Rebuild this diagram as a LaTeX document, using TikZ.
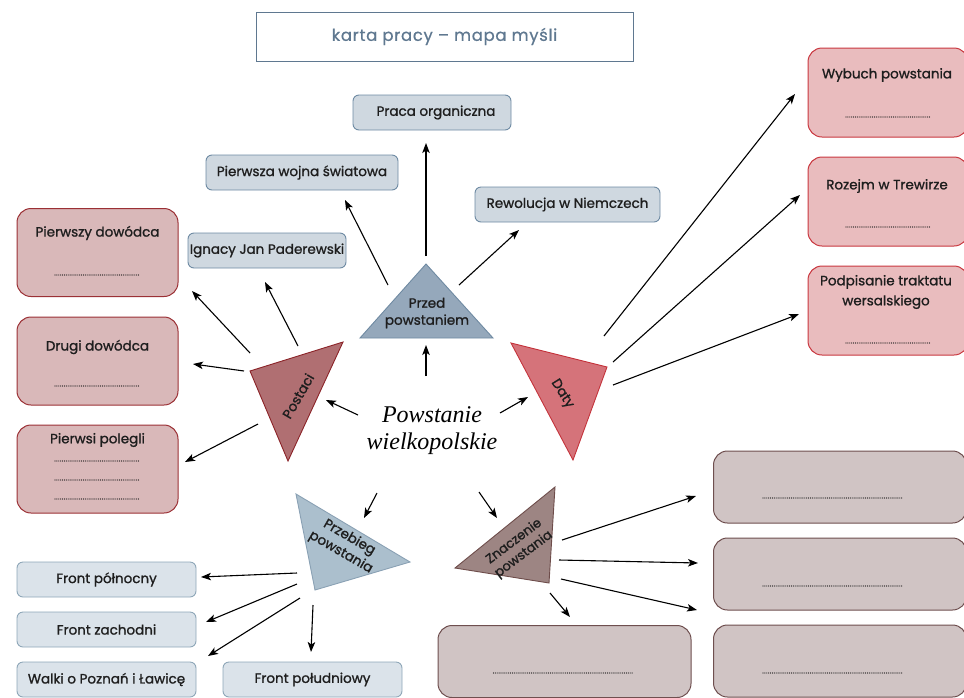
\documentclass[tikz,border=0pt]{standalone}
\usepackage{fontspec}
\setmainfont{Poppins}[FakeBold=1.2]
\newfontfamily\scriptf{Liberation Serif}
\newfontfamily\titlef{Poppins}[LetterSpace=4,FakeBold=0.6]
\usetikzlibrary{arrows.meta}
\definecolor{titleC}{HTML}{5F7890}
\definecolor{txt}{HTML}{1E1E1E}
\definecolor{bluF}{HTML}{CFD8E0}\definecolor{bluD}{HTML}{6E8AA3}
\definecolor{lbluF}{HTML}{DBE3EA}\definecolor{lbluD}{HTML}{8EA7B8}
\definecolor{redLF}{HTML}{D9B8B9}\definecolor{redLD}{HTML}{9B3035}
\definecolor{redRF}{HTML}{E9BCBE}\definecolor{redRD}{HTML}{C9373F}
\definecolor{brF}{HTML}{D0C4C4}\definecolor{brD}{HTML}{6F4F4F}
\definecolor{triA}{HTML}{95A8BB}\definecolor{triAD}{HTML}{6F8AA2}
\definecolor{triB}{HTML}{B06F72}\definecolor{triBD}{HTML}{8B2328}
\definecolor{triC}{HTML}{D5737A}\definecolor{triCD}{HTML}{C4343C}
\definecolor{triD}{HTML}{ABBFCD}\definecolor{triDD}{HTML}{8AA1B4}
\definecolor{triE}{HTML}{9D8583}\definecolor{triED}{HTML}{6E4D4B}
\newcommand{\dotline}[1]{\makebox[#1]{\fontsize{7}{7}\selectfont\leaders\hbox to 1.9pt{\hss.\hss}\hfill}}
\begin{document}
\begin{tikzpicture}[x=1pt,y=-1pt,
  every node/.style={font=\fontsize{13.5}{17}\selectfont, text=txt},
  bbox/.style={draw=bluD, fill=bluF, rounded corners=6pt, line width=0.9pt, inner sep=0pt},
  lbox/.style={draw=lbluD, fill=lbluF, rounded corners=6pt, line width=0.9pt, inner sep=0pt, minimum width=179pt, minimum height=35pt},
  rlbox/.style={draw=redLD, fill=redLF, rounded corners=14pt, line width=1pt, inner sep=0pt, minimum width=161pt, minimum height=88pt},
  rrbox/.style={draw=redRD, fill=redRF, rounded corners=14pt, line width=1pt, inner sep=0pt, minimum width=160pt, minimum height=89pt},
  brbox/.style={draw=brD, fill=brF, rounded corners=14pt, line width=1pt, inner sep=0pt, minimum height=72pt},
  dots/.style={inner sep=0pt},
  arr/.style={-{Stealth[length=10pt,width=7.5pt,inset=2.5pt]}, line width=1.1pt, black},
  tlabel/.style={align=center, inner sep=0pt}
]
\useasboundingbox (0,0) rectangle (964,697);

% title
\node[draw=titleC, line width=1pt, fill=white, minimum width=377pt, minimum height=49pt, inner sep=0pt,
  text=titleC, font=\titlef\fontsize{16.5}{18}\selectfont] (title) at (444.5,36.5) {karta pracy – mapa myśli};

% upper blue boxes
\node[bbox, minimum width=158pt, minimum height=35pt] (praca) at (432,112.5) {\hspace*{8pt}Praca organiczna};
\node[bbox, minimum width=192pt, minimum height=35pt] (wojna) at (302,172.5) {Pierwsza wojna światowa};
\node[bbox, minimum width=185pt, minimum height=35pt] (rewol) at (567.5,204.5) {Rewolucja w Niemczech};
\node[bbox, minimum width=158pt, minimum height=35pt] (padere) at (267,250.5) {Ignacy Jan Paderewski};

% left red boxes
\node[rlbox] (dow1) at (97.5,252.5) {};
\node[tlabel] (dow1t) at (97.5,233) {Pierwszy dowódca};
\node[dots] (dow1d) at (97.5,275) {\dotline{87pt}};
\node[rlbox] (dow2) at (97.5,361) {};
\node[tlabel] (dow2t) at (97.5,347) {Drugi dowódca};
\node[dots] (dow2d) at (97.5,386) {\dotline{87pt}};
\node[rlbox] (poleg) at (97.5,469) {};
\node[tlabel] (polegt) at (97.5,440) {Pierwsi polegli};
\node[dots] (polegd1) at (97.5,461) {\dotline{87pt}};
\node[dots] (polegd2) at (97.5,480) {\dotline{87pt}};
\node[dots] (polegd3) at (97.5,499) {\dotline{87pt}};

% right red boxes
\node[rrbox] (wybuch) at (888,92.5) {};
\node[tlabel] (wybucht) at (887,75) {Wybuch powstania};
\node[dots] (wybuchd) at (888.5,117) {\dotline{87pt}};
\node[rrbox] (rozejm) at (888,201.5) {};
\node[tlabel] (rozejmt) at (887,186) {Rozejm w Trewirze};
\node[dots] (rozejmd) at (888.5,227) {\dotline{87pt}};
\node[rrbox] (traktat) at (888,310.5) {};
\node[tlabel, font=\fontsize{13.5}{20}\selectfont] (traktatt) at (886,292) {Podpisanie traktatu\\wersalskiego};
\node[dots] (traktatd) at (888.5,343) {\dotline{87pt}};

% brown boxes
\node[brbox, minimum width=253pt] (zn1) at (840,487) {};
\node[brbox, minimum width=253pt] (zn2) at (840,574) {};
\node[brbox, minimum width=253pt] (zn3) at (840,661) {};
\node[brbox, minimum width=253pt] (zn4) at (564.5,661.5) {};
\node[dots] (zd1) at (833,498) {\dotline{142pt}};
\node[dots] (zd2) at (833,586) {\dotline{142pt}};
\node[dots] (zd3) at (833,673) {\dotline{142pt}};
\node[dots] (zd4) at (563.5,673) {\dotline{142pt}};

% lower blue boxes
\node[lbox] (fpn) at (106.5,579.5) {Front północny};
\node[lbox] (fza) at (106.5,629.5) {Front zachodni};
\node[lbox] (fwa) at (106.5,679.5) {Walki o Poznań i Ławicę};
\node[lbox] (fpd) at (312.5,679.5) {Front południowy};

% triangles
\draw[fill=triA, draw=triAD, line width=0.9pt] (426,264) -- (493,338) -- (360,338) -- cycle;
\node[tlabel] (przed) at (427,313) {Przed\\powstaniem};
\draw[fill=triB, draw=triBD, line width=0.9pt] (250,371) -- (343,342) -- (288,461) -- cycle;
\node[tlabel, rotate=60] (post) at (298,396) {Postaci};
\draw[fill=triC, draw=triCD, line width=0.9pt] (511,343) -- (607,367) -- (573,460) -- cycle;
\node[tlabel, rotate=-58] (daty) at (562,394) {Daty};
\draw[fill=triD, draw=triDD, line width=0.9pt] (296,494) -- (410,562) -- (315,590) -- cycle;
\node[tlabel, rotate=-30] (przeb) at (345,545) {Przebieg\\powstania};
\draw[fill=triE, draw=triED, line width=0.9pt] (455,568) -- (555,487) -- (549,583) -- cycle;
\node[tlabel, rotate=37, font=\fontsize{13}{16}\selectfont] (znacz) at (519,548) {Znaczenie\\powstania};

% center
\node[tlabel, font=\scriptf\itshape\fontsize{24}{27}\selectfont, text=black] (center) at (432,431) {Powstanie\\wielkopolskie};

% arrow endpoints
\coordinate (c1a) at (426,376); \coordinate (c1b) at (426,345);
\coordinate (p1a) at (426,256); \coordinate (p1b) at (426,143);
\coordinate (p2a) at (388,285); \coordinate (p2b) at (345,200);
\coordinate (p3a) at (459,285); \coordinate (p3b) at (519,230);
\coordinate (s1a) at (250,353); \coordinate (s1b) at (192,291);
\coordinate (s2a) at (298,346); \coordinate (s2b) at (265,282);
\coordinate (s3a) at (244,371); \coordinate (s3b) at (193,364);
\coordinate (s4a) at (258,424); \coordinate (s4b) at (185,462);
\coordinate (c2a) at (358,415); \coordinate (c2b) at (326,400);
\coordinate (c3a) at (500,413); \coordinate (c3b) at (528,397);
\coordinate (d1a) at (604,336); \coordinate (d1b) at (795,94);
\coordinate (d2a) at (613,362); \coordinate (d2b) at (800,195);
\coordinate (d3a) at (613,385); \coordinate (d3b) at (799,314);
\coordinate (c4a) at (377,493); \coordinate (c4b) at (364,518);
\coordinate (c5a) at (479,492); \coordinate (c5b) at (497,518);
\coordinate (b1a) at (297,573); \coordinate (b1b) at (201,577);
\coordinate (b2a) at (297,584); \coordinate (b2b) at (206,622);
\coordinate (b3a) at (300,598); \coordinate (b3b) at (208,656);
\coordinate (b4a) at (313,605); \coordinate (b4b) at (311,652);
\coordinate (z1a) at (562,540); \coordinate (z1b) at (696,496);
\coordinate (z2a) at (559,560); \coordinate (z2b) at (698,563);
\coordinate (z3a) at (561,579); \coordinate (z3b) at (697,610);
\coordinate (z4a) at (550,593); \coordinate (z4b) at (570,617);

\foreach \a/\b in {c1a/c1b,p1a/p1b,p2a/p2b,p3a/p3b,s1a/s1b,s2a/s2b,s3a/s3b,s4a/s4b,
  c2a/c2b,c3a/c3b,d1a/d1b,d2a/d2b,d3a/d3b,c4a/c4b,c5a/c5b,b1a/b1b,b2a/b2b,b3a/b3b,b4a/b4b,
  z1a/z1b,z2a/z2b,z3a/z3b,z4a/z4b}
  \draw[arr] (\a) -- (\b);
\end{tikzpicture}
\end{document}
